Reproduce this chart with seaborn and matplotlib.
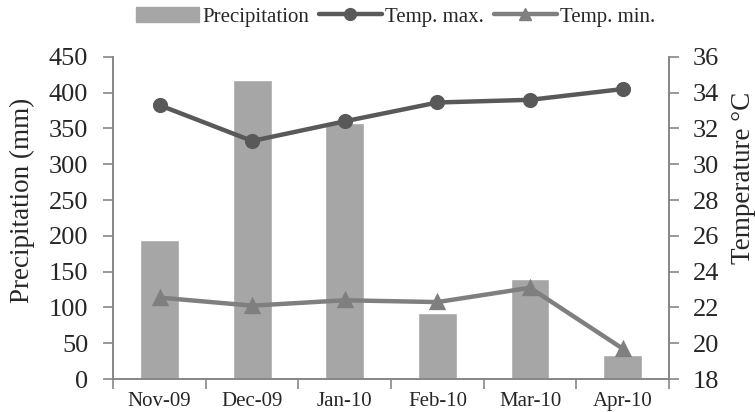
import numpy as np
import pandas as pd
import matplotlib
matplotlib.use("Agg")
import matplotlib.pyplot as plt
import seaborn as sns
from matplotlib.lines import Line2D
from matplotlib.patches import Patch

#%% data
months = ["Nov-09", "Dec-09", "Jan-10", "Feb-10", "Mar-10", "Apr-10"]
precip = [194, 418, 358, 92, 140, 34]
temp_max = [33.3, 31.3, 32.4, 33.45, 33.6, 34.2]
temp_min = [22.55, 22.1, 22.4, 22.3, 23.1, 19.7]

df = pd.DataFrame({"month": months, "precip": precip,
                   "tmax": temp_max, "tmin": temp_min})

#%% style
sns.set_style("white")
plt.rcParams["font.family"] = ["Liberation Serif", "DejaVu Serif"]
AX_COL = "#868686"
BAR_COL = "#a6a6a6"
MAX_COL = "#595959"
MIN_COL = "#7f7f7f"

fig = plt.figure(figsize=(7.55, 4.12), dpi=100)
ax = fig.add_axes([0.150, 0.080, 0.736, 0.782])

sns.barplot(data=df, x="month", y="precip", color=BAR_COL,
            saturation=1, width=0.42, ax=ax)
ax.set_ylim(0, 450)
ax.set_yticks(np.arange(0, 451, 50))
ax.set_xlim(-0.5, 5.5)

ax2 = ax.twinx()
sns.pointplot(data=df, x="month", y="tmax", color=MAX_COL, markers="o",
              markersize=8.5, linewidth=3.2, ax=ax2)
sns.pointplot(data=df, x="month", y="tmin", color=MIN_COL, markers="^",
              markersize=8.5, linewidth=3.2, ax=ax2)
ax2.set_ylim(18, 36)
ax2.set_yticks(np.arange(18, 37, 2))
ax2.set_xlim(-0.5, 5.5)

# x ticks: labels at centres, tick marks at boundaries
ax.set_xticks(range(6))
ax.set_xticklabels(months, fontsize=15)
ax.tick_params(axis="x", which="major", length=0, pad=9)
ax.set_xticks(np.arange(-0.5, 6, 1), minor=True)
ax.tick_params(axis="x", which="minor", length=7, width=1.2, color=AX_COL,
               direction="out", bottom=True)

ax.tick_params(axis="y", labelsize=19, length=7, width=1.2, color=AX_COL,
               direction="out", left=True, pad=11)
ax2.tick_params(axis="y", labelsize=19, length=7, width=1.2, color=AX_COL,
                direction="out", right=True, pad=10)

for a in (ax, ax2):
    a.spines["top"].set_visible(False)
    for s in ("left", "right", "bottom"):
        a.spines[s].set_color(AX_COL)
        a.spines[s].set_linewidth(1.2)
    a.grid(False)

ax.set_xlabel("")
ax.set_ylabel("Precipitation (mm)", fontsize=19.5)
ax.yaxis.set_label_coords(-0.140, 0.556)
ax2.set_ylabel("Temperature °C", fontsize=19.5)
ax2.yaxis.set_label_coords(1.112, 0.624)

#%% legend
handles = [
    Patch(color=BAR_COL),
    Line2D([], [], color=MAX_COL, lw=3.2, marker="o", markersize=8.5),
    Line2D([], [], color=MIN_COL, lw=3.2, marker="^", markersize=8.5),
]
fig.legend(handles, ["Precipitation", "Temp. max.", "Temp. min."],
           loc="center", bbox_to_anchor=(0.524, 0.959), ncol=3,
           frameon=False, fontsize=15, handlelength=3.0,
           handletextpad=0.15, columnspacing=0.5, borderpad=0)

fig.savefig("out.png", dpi=100)
